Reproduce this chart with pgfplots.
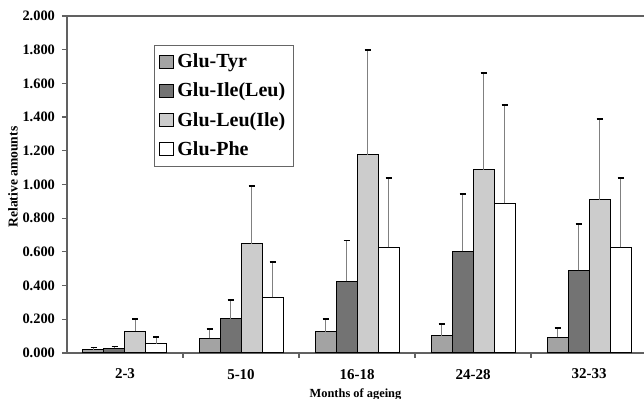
\documentclass[border=0pt]{standalone}
\usepackage{pgfplots}
\usepackage{pgfplotstable}
\pgfplotsset{compat=1.18}
\usepackage{fontspec}
\setmainfont{Liberation Serif}

\definecolor{tyrfill}{gray}{0.64}
\definecolor{ilefill}{gray}{0.45}
\definecolor{leufill}{gray}{0.80}
\definecolor{axisgray}{gray}{0.38}
\definecolor{errgray}{gray}{0.50}

% tick label fonts
\newcommand{\yl}[1]{{\bfseries\fontsize{7.2}{8}\selectfont #1}}
\newcommand{\xl}[1]{{\bfseries\fontsize{7.5}{8}\selectfont #1}}

% mean relative amount and upper error per dipeptide and age class
\pgfplotstableread{
x   tyr   tyre  ile   ilee  leu   leue  phe   phee
0   0.020 0.013 0.027 0.012 0.130 0.070 0.055 0.040
1   0.086 0.055 0.204 0.112 0.647 0.343 0.330 0.210
2   0.125 0.075 0.425 0.242 1.177 0.621 0.627 0.410
3   0.103 0.069 0.603 0.341 1.086 0.576 0.888 0.584
4   0.093 0.055 0.491 0.273 0.908 0.481 0.627 0.410
}\agedata

\begin{document}
\begin{tikzpicture}
\begin{axis}[
  scale only axis,
  width=288.5pt, height=168.5pt,
  xmin=-0.5, xmax=4.474,
  ymin=0, ymax=2,
  ybar=0pt, bar width=10.5pt,
  axis x line*=bottom, axis y line*=left,
  axis line style={axisgray, line width=0.8pt},
  tick align=outside,
  major tick length=2.5pt,
  tick style={axisgray, line width=0.6pt},
  xtick={0.5,1.5,2.5,3.5},
  xticklabels={},
  extra x ticks={0,1,2,3,4},
  extra x tick labels={\xl{2-3},\xl{5-10},\xl{16-18},\xl{24-28},\xl{32-33}},
  extra x tick style={major tick length=0pt},
  ytick={0,0.2,0.4,0.6,0.8,1.0,1.2,1.4,1.6,1.8,2.0},
  yticklabels={\yl{0.000},\yl{0.200},\yl{0.400},\yl{0.600},\yl{0.800},\yl{1.000},
    \yl{1.200},\yl{1.400},\yl{1.600},\yl{1.800},\yl{2.000}},
  tick label style={font=\bfseries\fontsize{7.2}{8}\selectfont},
  xticklabel style={yshift=-4.5pt},
  xlabel={Months of ageing},
  ylabel={Relative amounts},
  xlabel style={at={(rel axis cs:0.5,0)}, anchor=center, yshift=-21pt, font=\bfseries\fontsize{6.2}{8}\selectfont},
  ylabel style={at={(rel axis cs:0,0.522)}, anchor=center, yshift=27pt, font=\bfseries\fontsize{6.8}{8}\selectfont},
  legend style={at={(rel axis cs:0.1508,0.914)}, anchor=north west,
    draw=black!60, line width=0.6pt,
    font=\bfseries\fontsize{10}{12}\selectfont,
    row sep=2.2pt, inner xsep=2pt, inner ysep=2pt,
    cells={anchor=west}},
  legend image code/.code={\draw[#1, line width=0.4pt] (0pt,-3pt) rectangle (7pt,3.5pt);},
  every axis plot/.append style={draw=black, line width=0.5pt,
    error bars/y dir=plus, error bars/y explicit,
    error bars/error mark=-,
    error bars/error bar style={errgray, line width=0.7pt},
    error bars/error mark options={rotate=90, black, line width=0.8pt, mark size=1.5pt}},
]
\addplot[fill=tyrfill] table[x=x, y=tyr, y error=tyre] {\agedata};
\addplot[fill=ilefill] table[x=x, y=ile, y error=ilee] {\agedata};
\addplot[fill=leufill] table[x=x, y=leu, y error=leue] {\agedata};
\addplot[fill=white]   table[x=x, y=phe, y error=phee] {\agedata};
\legend{Glu-Tyr, Glu-Ile(Leu), Glu-Leu(Ile), Glu-Phe}
\draw[axisgray, line width=0.9pt] (rel axis cs:0,1) -- (rel axis cs:1,1);
\end{axis}
\pgfresetboundingbox
\useasboundingbox (-33.5pt,-23pt) rectangle (288.5pt,176.5pt);
\end{tikzpicture}
\end{document}
